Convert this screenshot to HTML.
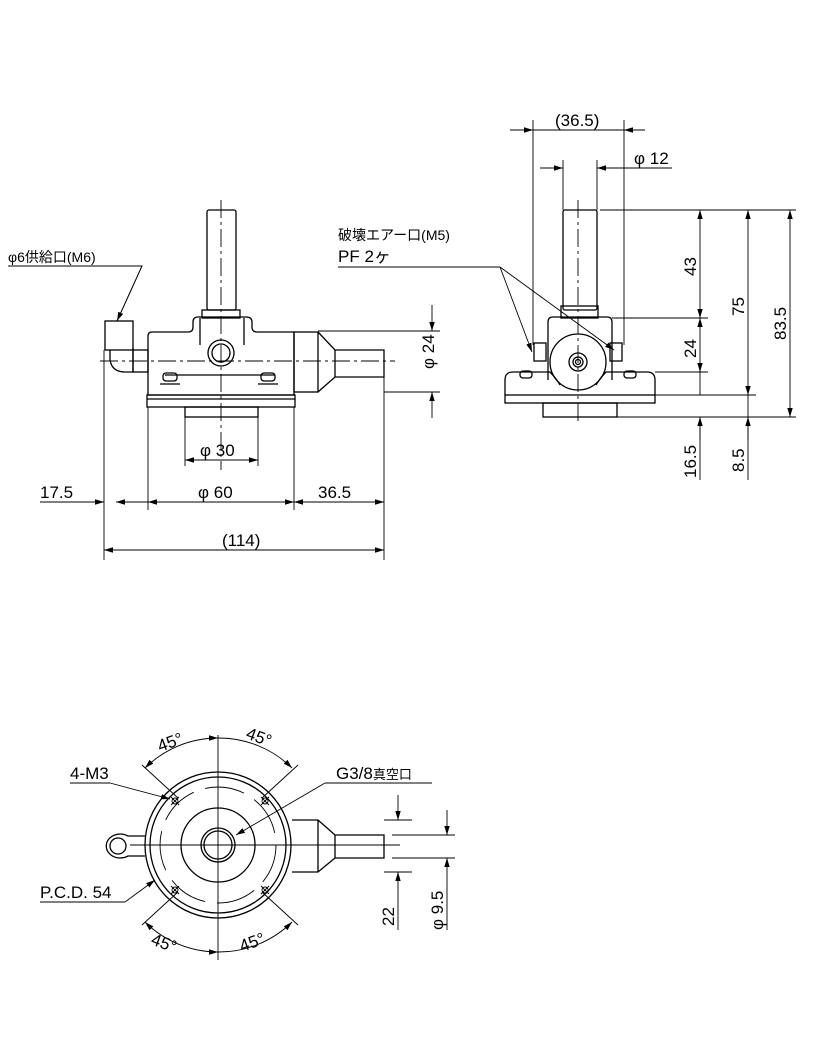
<!DOCTYPE html>
<html><head><meta charset="utf-8"><style>
html,body{margin:0;padding:0;background:#fff}
svg{display:block}
text{font-family:"Liberation Sans","Noto Sans CJK JP",sans-serif;fill:#000}
</style></head><body>
<svg width="816" height="1056" viewBox="0 0 816 1056" xmlns="http://www.w3.org/2000/svg">
<defs>
<marker id="a" viewBox="0 0 10 10" refX="10" refY="5" markerWidth="9" markerHeight="9" orient="auto-start-reverse" markerUnits="userSpaceOnUse"><path d="M0,2 L10,5 L0,8z" fill="#000"/></marker>
</defs>
<g fill="none" stroke="#000" stroke-width="1.3">
<!-- FRONT VIEW -->
<rect x="207" y="210" width="29" height="100" rx="2"/>
<rect x="202" y="310" width="38" height="8"/>
<path d="M148,395 V336 Q148,332 152,332 H188 Q193,332 193,327 V322 Q193,317 198,317 H246 Q252,317 252,322 V327 Q252,332 257,332 H294 V395 Z"/>
<line x1="200" y1="318" x2="200" y2="345"/><line x1="244" y1="318" x2="244" y2="345"/>
<circle cx="221" cy="353" r="13"/><circle cx="221" cy="353" r="9"/>
<line x1="165" y1="375" x2="275" y2="375"/>
<rect x="163" y="373" width="14" height="8" rx="3"/><rect x="261" y="373" width="14" height="8" rx="3"/>
<line x1="160" y1="384" x2="180" y2="384"/><line x1="258" y1="384" x2="278" y2="384"/>
<rect x="147" y="395" width="148" height="12"/>
<line x1="147" y1="399" x2="295" y2="399"/>
<rect x="185" y="407" width="73" height="10"/>
<rect x="294" y="332" width="24" height="60"/>
<path d="M318,332 L335,350 H384 V377 H335 L318,392"/>
<line x1="335" y1="350" x2="335" y2="377"/>
<rect x="105" y="321" width="28" height="29"/>
<path d="M110,350 V360 Q112,372 125,372 H133 V348"/>
<rect x="133" y="350" width="15" height="22"/>
<!-- centerlines -->
<g stroke-width="0.9" stroke-dasharray="18,4,3,4">
<line x1="221" y1="200" x2="221" y2="470"/>
<line x1="100" y1="361" x2="395" y2="361"/>
</g>
<!-- front dims -->
<g stroke-width="0.9">
<line x1="318" y1="331" x2="440" y2="331"/><line x1="384" y1="392" x2="440" y2="392"/>
<line x1="432" y1="305" x2="432" y2="331" marker-end="url(#a)"/>
<line x1="432" y1="418" x2="432" y2="392" marker-end="url(#a)"/>
<line x1="185" y1="417" x2="185" y2="466"/><line x1="258" y1="417" x2="258" y2="466"/>
<line x1="185" y1="460" x2="258" y2="460" marker-start="url(#a)" marker-end="url(#a)"/>
<line x1="104" y1="350" x2="104" y2="560"/><line x1="148" y1="407" x2="148" y2="510"/>
<line x1="294" y1="407" x2="294" y2="510"/><line x1="384" y1="377" x2="384" y2="560"/>
<line x1="40" y1="502" x2="104" y2="502" marker-end="url(#a)"/>
<line x1="148" y1="502" x2="116" y2="502" marker-end="url(#a)"/>
<line x1="148" y1="502" x2="294" y2="502" marker-start="url(#a)" marker-end="url(#a)"/>
<line x1="294" y1="502" x2="384" y2="502" marker-start="url(#a)" marker-end="url(#a)"/>
<line x1="104" y1="550" x2="384" y2="550" marker-start="url(#a)" marker-end="url(#a)"/>
<polyline points="8,266 142,266 117,321"/>
<line x1="142" y1="266" x2="117" y2="321" marker-end="url(#a)"/>
</g>
<!-- SIDE VIEW -->
<rect x="563" y="210" width="34" height="100" rx="2"/>
<rect x="561" y="306" width="37" height="12"/>
<path d="M548,380 V322 Q548,317 553,317 H607 Q612,317 612,322 V380"/>
<circle cx="578" cy="362" r="28"/>
<circle cx="578" cy="362" r="9"/><circle cx="578" cy="362" r="5"/><circle cx="578" cy="362" r="2.5"/>
<rect x="534" y="343" width="12" height="18"/><rect x="610" y="343" width="12" height="18"/>
<path d="M505,395 V380 Q505,372 513,372 H550 Q556,378 560,385 M596,385 Q600,378 606,372 H647 Q655,372 655,380 V395"/>
<rect x="520" y="371" width="12" height="7" rx="3"/><rect x="624" y="371" width="12" height="7" rx="3"/>
<rect x="505" y="395" width="150" height="8"/>
<rect x="543" y="403" width="74" height="14"/>
<g stroke-width="0.9" stroke-dasharray="18,4,3,4">
<line x1="578" y1="200" x2="578" y2="425"/>
</g>
<g stroke-width="0.9">
<line x1="533" y1="120" x2="533" y2="345"/><line x1="624" y1="120" x2="624" y2="345"/>
<line x1="510" y1="130" x2="533" y2="130" marker-end="url(#a)"/>
<line x1="645" y1="130" x2="624" y2="130" marker-end="url(#a)"/>
<line x1="533" y1="130" x2="624" y2="130"/>
<line x1="563" y1="160" x2="563" y2="210"/><line x1="597" y1="160" x2="597" y2="210"/>
<line x1="540" y1="168" x2="563" y2="168" marker-end="url(#a)"/>
<line x1="620" y1="168" x2="597" y2="168" marker-end="url(#a)"/>
<line x1="597" y1="168" x2="672" y2="168"/>
<line x1="600" y1="210" x2="796" y2="210"/>
<line x1="612" y1="318" x2="708" y2="318"/>
<line x1="655" y1="372" x2="708" y2="372"/>
<line x1="655" y1="395" x2="756" y2="395"/>
<line x1="617" y1="417" x2="796" y2="417"/>
<line x1="700" y1="210" x2="700" y2="318" marker-start="url(#a)" marker-end="url(#a)"/>
<line x1="700" y1="318" x2="700" y2="372" marker-start="url(#a)" marker-end="url(#a)"/>
<line x1="700" y1="372" x2="700" y2="395"/>
<line x1="700" y1="417" x2="700" y2="480"/>
<line x1="700" y1="440" x2="700" y2="417" marker-end="url(#a)"/>
<line x1="748" y1="210" x2="748" y2="395" marker-start="url(#a)" marker-end="url(#a)"/>
<line x1="748" y1="395" x2="748" y2="480"/>
<line x1="748" y1="440" x2="748" y2="417" marker-end="url(#a)"/>
<line x1="790" y1="210" x2="790" y2="417" marker-start="url(#a)" marker-end="url(#a)"/>
<line x1="338" y1="267" x2="500" y2="267"/>
<line x1="500" y1="267" x2="532" y2="352" marker-end="url(#a)"/>
<line x1="500" y1="267" x2="614" y2="350" marker-end="url(#a)"/>
</g>
<!-- TOP VIEW -->
<circle cx="218" cy="845" r="73"/>
<circle cx="218" cy="845" r="68"/>
<circle cx="218" cy="845" r="58" stroke-dasharray="40,12" stroke-width="0.9"/>
<circle cx="218" cy="845" r="37"/>
<circle cx="218" cy="845" r="17"/><circle cx="218" cy="845" r="14"/>
<path d="M292,820 H318 L335,835 H384 V858 H335 L318,872 H292"/>
<line x1="318" y1="820" x2="318" y2="872"/><line x1="335" y1="835" x2="335" y2="858"/>
<path d="M145,836 H128 A14,12 0 1 0 128,856 H145"/>
<circle cx="118" cy="846" r="8"/>
<g stroke-width="0.9">
<circle cx="175" cy="801" r="3"/><circle cx="265" cy="801" r="3"/>
<circle cx="175" cy="890" r="3"/><circle cx="265" cy="890" r="3"/>
<path d="M171,797 l8,8 M179,797 l-8,8 M261,797 l8,8 M269,797 l-8,8 M171,886 l8,8 M179,886 l-8,8 M261,886 l8,8 M269,886 l-8,8"/>
<line x1="218" y1="735" x2="218" y2="960"/>
<line x1="130" y1="845" x2="400" y2="845"/>
<path d="M145,768 A104,104 0 0 1 218,738" marker-start="url(#a)" marker-end="url(#a)"/>
<path d="M218,738 A104,104 0 0 1 292,768" marker-end="url(#a)"/>
<path d="M145,922 A104,104 0 0 0 218,952" marker-start="url(#a)" marker-end="url(#a)"/>
<path d="M218,952 A104,104 0 0 0 292,922" marker-end="url(#a)"/>
<line x1="142" y1="765" x2="178" y2="798"/><line x1="298" y1="765" x2="262" y2="798"/>
<line x1="142" y1="925" x2="178" y2="892"/><line x1="298" y1="925" x2="262" y2="892"/>
<polyline points="70,783 110,783"/>
<line x1="110" y1="783" x2="170" y2="799" marker-end="url(#a)"/>
<line x1="432" y1="783" x2="325" y2="783"/>
<line x1="325" y1="783" x2="236" y2="835" marker-end="url(#a)"/>
<line x1="40" y1="902" x2="125" y2="902"/>
<line x1="125" y1="902" x2="155" y2="880" marker-end="url(#a)"/>
<line x1="384" y1="820" x2="412" y2="820"/><line x1="384" y1="872" x2="412" y2="872"/>
<line x1="398" y1="795" x2="398" y2="820" marker-end="url(#a)"/>
<line x1="398" y1="930" x2="398" y2="872" marker-end="url(#a)"/>
<line x1="392" y1="835" x2="455" y2="835"/><line x1="392" y1="858" x2="455" y2="858"/>
<line x1="447" y1="810" x2="447" y2="835" marker-end="url(#a)"/>
<line x1="447" y1="930" x2="447" y2="858" marker-end="url(#a)"/>
</g>
</g>
<!-- TEXT -->
<g font-size="17">
<text x="8" y="262" font-size="14">φ6供給口(M6)</text>
<text x="412" y="375" transform="rotate(-90 420 361)" font-size="17">φ 24</text>
<text x="200" y="456">φ 30</text>
<text x="198" y="498">φ 60</text>
<text x="40" y="498">17.5</text>
<text x="318" y="498">36.5</text>
<text x="222" y="546">(114)</text>
<text x="555" y="126">(36.5)</text>
<text x="634" y="164">φ 12</text>
<text x="338" y="240" font-size="14">破壊エアー口(M5)</text>
<text x="338" y="262">PF 2ヶ</text>
<text transform="translate(696,276) rotate(-90)">43</text>
<text transform="translate(696,358) rotate(-90)">24</text>
<text transform="translate(744,316) rotate(-90)">75</text>
<text transform="translate(786,340) rotate(-90)">83.5</text>
<text transform="translate(696,478) rotate(-90)">16.5</text>
<text transform="translate(744,472) rotate(-90)">8.5</text>
<text x="70" y="779">4-M3</text>
<text x="336" y="779">G3/8<tspan font-size="13">真空口</tspan></text>
<text x="40" y="898">P.C.D. 54</text>
<text transform="translate(160,752) rotate(-20)">45°</text>
<text transform="translate(245,738) rotate(20)">45°</text>
<text transform="translate(150,944) rotate(20)">45°</text>
<text transform="translate(242,952) rotate(-20)">45°</text>
<text transform="translate(394,926) rotate(-90)">22</text>
<text transform="translate(443,930) rotate(-90)">φ 9.5</text>
</g>
</svg>
</body></html>
